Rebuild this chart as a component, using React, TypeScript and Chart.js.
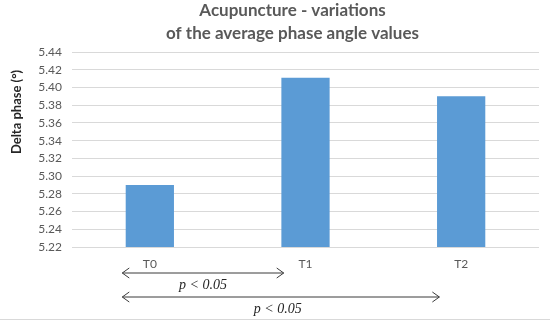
import React, { useEffect, useRef } from "react";
import { Chart, registerables } from "chart.js";

Chart.register(...registerables);

const categories = ["T0", "T1", "T2"];
const deltaPhase = [5.29, 5.411, 5.39];
const yMin = 5.22;
const yMax = 5.44;
const yStep = 0.02;
const titleLines = ["Acupuncture - variations", "of the average phase angle values"];
const yTitle = "Delta phase (°)";
const comparisons = [
  { from: 0, to: 1, label: "p < 0.05" },
  { from: 0, to: 2, label: "p < 0.05" },
];

const overlay = {
  id: "overlay",
  afterDraw(chart: any) {
    const ctx = chart.ctx as CanvasRenderingContext2D;
    const area = chart.chartArea;
    const xs = chart.scales.x;
    ctx.save();
    // title
    ctx.fillStyle = "#595959";
    ctx.font = "bold 17px Lato";
    ctx.textAlign = "center";
    ctx.textBaseline = "middle";
    const tx = (area.left + area.right) / 2 - 13;
    titleLines.forEach((t, i) => ctx.fillText(t, tx, 11 + i * 23));
    // y title
    ctx.save();
    ctx.translate(17, 112);
    ctx.rotate(-Math.PI / 2);
    ctx.font = "bold 13px Lato";
    ctx.fillStyle = "#262626";
    ctx.fillText(yTitle, 0, 0);
    ctx.restore();
    // comparisons
    const p = (i: number) => xs.getPixelForValue(i);
    const cat = p(1) - p(0);
    comparisons.forEach((c, k) => {
      const x1 = p(c.from) - 0.177 * cat;
      const x2 = p(c.to) - 0.14 * cat;
      const y = area.bottom + 26 + k * 24;
      ctx.strokeStyle = "#3a3a3a";
      ctx.lineWidth = 1;
      ctx.beginPath();
      ctx.moveTo(x1, y);
      ctx.lineTo(x2, y);
      ctx.moveTo(x1 + 7, y - 5);
      ctx.lineTo(x1, y);
      ctx.lineTo(x1 + 7, y + 5);
      ctx.moveTo(x2 - 7, y - 5);
      ctx.lineTo(x2, y);
      ctx.lineTo(x2 - 7, y + 5);
      ctx.stroke();
      ctx.fillStyle = "#262626";
      ctx.font = "italic 14px 'Liberation Serif'";
      ctx.fillText(c.label, (x1 + x2) / 2 - (k ? 3 : 0), y + 12);
    });
    // bottom border
    ctx.strokeStyle = "#d9d9d9";
    ctx.beginPath();
    ctx.moveTo(0, 319.5);
    ctx.lineTo(550, 319.5);
    ctx.stroke();
    ctx.restore();
  },
};

export default function App() {
  const ref = useRef<HTMLCanvasElement>(null);
  useEffect(() => {
    if (!ref.current) return;
    const chart = new Chart(ref.current, {
      type: "bar",
      data: {
        labels: categories,
        datasets: [
          {
            data: deltaPhase,
            backgroundColor: "#5B9BD5",
            barPercentage: 0.31,
            categoryPercentage: 1,
          },
        ],
      },
      options: {
        animation: false,
        responsive: false,
        devicePixelRatio: 1,
        layout: { padding: { left: 0, right: 11, top: 52, bottom: 0 } },
        plugins: { legend: { display: false }, tooltip: { enabled: false } },
        scales: {
          y: {
            min: yMin,
            max: yMax,
            afterFit: (s: any) => {
              s.width = 72;
            },
            ticks: {
              stepSize: yStep,
              padding: 10,
              color: "#595959",
              font: { family: "Lato", size: 12 },
              callback: (v: any) => Number(v).toFixed(2),
            },
            grid: { color: "#d9d9d9", drawTicks: false },
            border: { display: false },
          },
          x: {
            afterFit: (s: any) => {
              s.height = 78;
            },
            ticks: {
              padding: 2,
              color: "#595959",
              font: { family: "Lato", size: 12 },
            },
            grid: { display: false },
            border: { display: false },
          },
        },
      },
      plugins: [overlay],
    });
    return () => chart.destroy();
  }, []);
  return (
    <div style={{ position: "absolute", left: 0, top: 0, width: 550, height: 325, background: "#fff" }}>
      <canvas ref={ref} width={550} height={325} />
    </div>
  );
}
